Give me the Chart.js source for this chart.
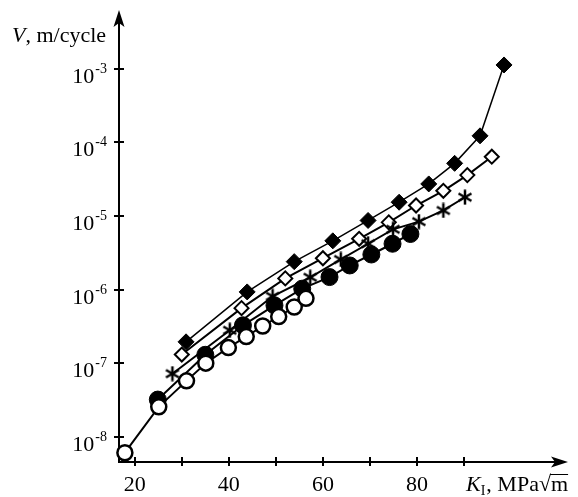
<!DOCTYPE html>
<html>
<head>
<meta charset="utf-8">
<script src="https://cdn.jsdelivr.net/npm/chart.js@4.4.0/dist/chart.umd.min.js"></script>
<style>
  html, body { margin: 0; padding: 0; background: #fff; }
  canvas { display: block; }
</style>
</head>
<body>
<canvas id="crackChart" width="578" height="497"></canvas>
<script>
/* ---------- Data (K_I in MPa*sqrt(m), V in m/cycle) ---------- */
const filledDiamondK = [30.9, 43.9, 53.9, 62.1, 69.6, 76.2, 82.5, 88.0, 93.4, 98.5];
const filledDiamondV = [1.95e-7, 9.3e-7, 2.4e-6, 4.6e-6, 8.7e-6, 1.54e-5, 2.73e-5, 5.2e-5, 1.23e-4, 1.13e-3];

const openDiamondK = [30.0, 42.7, 52.0, 60.0, 67.7, 74.0, 79.8, 85.6, 90.7, 95.9];
const openDiamondV = [1.31e-7, 5.6e-7, 1.42e-6, 2.67e-6, 4.9e-6, 8.2e-6, 1.39e-5, 2.2e-5, 3.6e-5, 6.4e-5];

const starK = [28.0, 40.2, 49.3, 57.3, 63.8, 69.6, 74.9, 80.4, 85.6, 90.2];
const starV = [7.2e-8, 2.8e-7, 8.1e-7, 1.47e-6, 2.57e-6, 4.2e-6, 6.6e-6, 8.4e-6, 1.19e-5, 1.8e-5];

const filledCircleK = [24.9, 35.0, 43.0, 49.7, 55.6, 61.4, 65.7, 70.3, 74.8, 78.6];
const filledCircleV = [3.2e-8, 1.3e-7, 3.27e-7, 6.1e-7, 1.03e-6, 1.48e-6, 2.13e-6, 3.0e-6, 4.2e-6, 5.7e-6];

const openCircleK = [17.9, 25.1, 31.0, 35.1, 39.9, 43.7, 47.2, 50.6, 53.9, 56.4];
const openCircleV = [6.07e-9, 2.55e-8, 5.75e-8, 1.0e-7, 1.63e-7, 2.3e-7, 3.2e-7, 4.3e-7, 5.8e-7, 7.6e-7];

const xTickValues = [20, 30, 40, 50, 60, 70, 80, 90];
const xTickLabels = ["20", "", "40", "", "60", "", "80", ""];
const yTickExponents = [-3, -4, -5, -6, -7, -8];

const SERIF = '"Liberation Serif", "DejaVu Serif", serif';

/* ---------- Helpers ---------- */
function toPoints(xs, ys) {
    return xs.map(function (x, i) { return { x: x, y: ys[i] }; });
}

function makeAsterisk(size, lw) {
    const c = document.createElement("canvas");
    c.width = size; c.height = size;
    const g = c.getContext("2d");
    g.strokeStyle = "#000";
    g.lineWidth = lw;
    const r = size / 2 - 0.5, cx = size / 2;
    for (let k = 0; k < 3; k++) {
        const a = Math.PI / 2 + k * Math.PI / 3;
        g.beginPath();
        g.moveTo(cx + r * Math.cos(a), cx - r * Math.sin(a));
        g.lineTo(cx - r * Math.cos(a), cx + r * Math.sin(a));
        g.stroke();
    }
    return c;
}

/* ---------- Axes with arrows, drawn under the data ---------- */
const axesPlugin = {
    id: "arrowAxes",
    beforeDatasetsDraw: function (chart) {
        const ctx = chart.ctx, a = chart.chartArea;
        const xs = chart.scales.x, ys = chart.scales.y;
        ctx.save();
        ctx.strokeStyle = "#000";
        ctx.fillStyle = "#000";
        ctx.lineWidth = 2;
        // axis lines
        ctx.beginPath();
        ctx.moveTo(a.left, a.top + 10);
        ctx.lineTo(a.left, a.bottom);
        ctx.lineTo(a.right - 10, a.bottom);
        ctx.stroke();
        // y arrow
        ctx.beginPath();
        ctx.moveTo(a.left, a.top);
        ctx.lineTo(a.left + 5.5, a.top + 17);
        ctx.lineTo(a.left, a.top + 13);
        ctx.lineTo(a.left - 5.5, a.top + 17);
        ctx.closePath();
        ctx.fill();
        // x arrow
        ctx.beginPath();
        ctx.moveTo(a.right, a.bottom);
        ctx.lineTo(a.right - 17, a.bottom - 5.5);
        ctx.lineTo(a.right - 13, a.bottom);
        ctx.lineTo(a.right - 17, a.bottom + 5.5);
        ctx.closePath();
        ctx.fill();
        // ticks
        xTickValues.forEach(function (v) {
            const px = Math.round(xs.getPixelForValue(v));
            ctx.beginPath();
            ctx.moveTo(px, a.bottom - 5);
            ctx.lineTo(px, a.bottom + 4);
            ctx.stroke();
        });
        yTickExponents.forEach(function (e) {
            const py = Math.round(ys.getPixelForValue(Math.pow(10, e)));
            ctx.beginPath();
            ctx.moveTo(a.left - 5, py);
            ctx.lineTo(a.left + 5, py);
            ctx.stroke();
        });
        ctx.restore();
    },
    afterDraw: function (chart) {
        const ctx = chart.ctx;
        const xs = chart.scales.x, ys = chart.scales.y;
        ctx.save();
        ctx.fillStyle = "#000";
        ctx.strokeStyle = "#000";
        ctx.textBaseline = "alphabetic";
        // y tick labels 10^e
        yTickExponents.forEach(function (e) {
            const py = ys.getPixelForValue(Math.pow(10, e));
            const sup = String(e);
            ctx.font = "14px " + SERIF;
            const supW = ctx.measureText(sup).width;
            ctx.textAlign = "right";
            ctx.fillText(sup, 107, py + 4);
            ctx.font = "22px " + SERIF;
            ctx.fillText("10", 107 - supW - 1, py + 14);
        });
        // x tick labels
        ctx.font = "22px " + SERIF;
        ctx.textAlign = "center";
        xTickValues.forEach(function (v, i) {
            if (!xTickLabels[i]) return;
            ctx.fillText(xTickLabels[i], xs.getPixelForValue(v), 491);
        });
        // y axis title
        ctx.textAlign = "left";
        ctx.font = "italic 22px " + SERIF;
        ctx.fillText("V", 12, 42);
        let x = 12 + ctx.measureText("V").width;
        ctx.font = "22px " + SERIF;
        ctx.fillText(", m/cycle", x, 42);
        // x axis title
        x = 466;
        ctx.font = "italic 22px " + SERIF;
        ctx.fillText("K", x, 491);
        x += ctx.measureText("K").width;
        ctx.font = "14px " + SERIF;
        ctx.fillText("I", x, 495);
        x += ctx.measureText("I").width + 1;
        ctx.font = "22px " + SERIF;
        ctx.fillText(", MPa", x, 491);
        x += ctx.measureText(", MPa").width;
        ctx.fillText("\u221A", x, 491);
        x += ctx.measureText("\u221A").width;
        const mW = ctx.measureText("m").width;
        ctx.fillText("m", x, 491);
        ctx.lineWidth = 1;
        ctx.beginPath();
        ctx.moveTo(x - 1, 474.5);
        ctx.lineTo(x + mW, 474.5);
        ctx.stroke();
        ctx.restore();
    }
};

/* ---------- Chart ---------- */
function crackInitChart() {
    const el = document.getElementById("crackChart");
    const base = { borderColor: "#000", showLine: true, clip: false, pointHoverRadius: 0, tension: 0 };
    new Chart(el.getContext("2d"), {
        type: "scatter",
        data: {
            datasets: [
                Object.assign({}, base, { label: "open circles", data: toPoints(openCircleK, openCircleV), borderWidth: 2, pointStyle: "circle", pointRadius: 7.5, pointBorderWidth: 2.5, pointBackgroundColor: "#fff", pointBorderColor: "#000" }),
                Object.assign({}, base, { label: "filled circles", data: toPoints(filledCircleK, filledCircleV), borderWidth: 2, pointStyle: "circle", pointRadius: 8.5, pointBorderWidth: 1, pointBackgroundColor: "#000", pointBorderColor: "#000" }),
                Object.assign({}, base, { label: "stars", data: toPoints(starK, starV), borderWidth: 2, pointStyle: makeAsterisk(16, 2.5) }),
                Object.assign({}, base, { label: "open diamonds", data: toPoints(openDiamondK, openDiamondV), borderWidth: 2, pointStyle: "rectRot", pointRadius: 7, pointBorderWidth: 2, pointBackgroundColor: "#fff", pointBorderColor: "#000" }),
                Object.assign({}, base, { label: "filled diamonds", data: toPoints(filledDiamondK, filledDiamondV), borderWidth: 1.5, pointStyle: "rectRot", pointRadius: 8, pointBorderWidth: 1, pointBackgroundColor: "#000", pointBorderColor: "#000" })
            ]
        },
        options: {
            responsive: false,
            animation: false,
            devicePixelRatio: 1,
            layout: { padding: { left: 119, right: 3, top: 9, bottom: 35 } },
            plugins: { legend: { display: false }, tooltip: { enabled: false } },
            scales: {
                x: { type: "linear", min: 16.65, max: 112.1, display: false },
                y: { type: "logarithmic", min: Math.pow(10, -8.343), max: Math.pow(10, -2.2), display: false }
            }
        },
        plugins: [axesPlugin]
    });
}

document.addEventListener("DOMContentLoaded", crackInitChart);
</script>
</body>
</html>
